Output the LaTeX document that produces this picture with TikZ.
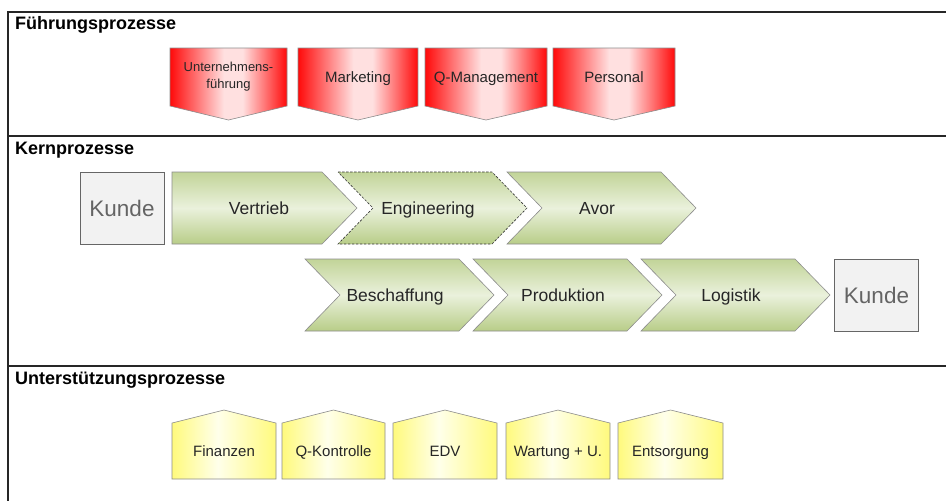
\documentclass[tikz,border=0pt]{standalone}
\usepackage{fontspec}
\setmainfont{Liberation Sans}
\definecolor{rededge}{RGB}{255,10,10}
\definecolor{redmid}{RGB}{255,224,224}
\definecolor{gtop}{RGB}{194,212,152}
\definecolor{gmid}{RGB}{234,241,220}
\definecolor{gbot}{RGB}{184,205,136}
\definecolor{yedge}{RGB}{255,250,125}
\definecolor{ymid}{RGB}{255,255,234}
\definecolor{kundefill}{RGB}{242,242,242}
\definecolor{kundetext}{RGB}{100,100,100}
\definecolor{shapeline}{RGB}{140,140,140}
\pgfdeclarehorizontalshading{redsh}{100bp}{color(0bp)=(rededge); color(25bp)=(rededge); color(48bp)=(redmid); color(56bp)=(redmid); color(75bp)=(rededge); color(100bp)=(rededge)}
\pgfdeclarehorizontalshading{yelsh}{100bp}{color(0bp)=(yedge); color(25bp)=(yedge); color(47bp)=(ymid); color(75bp)=(yedge); color(100bp)=(yedge)}
\pgfdeclareverticalshading{greensh}{100bp}{color(0bp)=(gbot); color(25bp)=(gbot); color(50bp)=(gmid); color(75bp)=(gtop); color(100bp)=(gtop)}
\tikzset{
  frameline/.style={line width=1.6pt, draw=black!85},
  heading/.style={anchor=base west, inner sep=0pt, font=\fontsize{18}{20}\selectfont\bfseries},
  redbox/.style={draw=shapeline, line width=0.6pt, shading=redsh},
  redtext/.style={font=\fontsize{15}{17}\selectfont, text=black!85, align=center, inner sep=0pt},
  redone/.style={redtext, text height=11pt, text depth=0pt},
  greenbox/.style={draw=shapeline, line width=0.6pt, shading=greensh},
  greentext/.style={font=\fontsize{17.5}{20}\selectfont, text=black!85, inner sep=0pt, text height=12.5pt, text depth=0pt},
  kundebox/.style={draw=black!60, line width=0.8pt, fill=kundefill, minimum width=84pt, minimum height=72pt, inner sep=0pt, font=\fontsize{22.5}{24}\selectfont, text=kundetext, text height=16pt, text depth=0pt},
  yelbox/.style={draw=shapeline, line width=0.6pt, shading=yelsh},
  yeltext/.style={font=\fontsize{15}{17}\selectfont, text=black!85, inner sep=0pt, text height=11pt, text depth=0pt}
}
% red pentagon pointing down: name, x1, x2, text, text style
\newcommand\redpent[5]{%
  \path[redbox] (#2,48) -- (#3,48) -- (#3,106) -- ({(#2+#3)/2},120) -- (#2,106) -- cycle;
  \node[#5] (#1) at ({(#2+#3)/2},77) {#4};}
% green chevron with notch: name, left x, top y, text, extra style
\newcommand\greenchev[5]{%
  \path[greenbox,#5] (#2,#3) -- ({#2+154},#3) -- ({#2+189},{#3+36}) -- ({#2+154},{#3+72}) -- (#2,{#3+72}) -- ({#2+35},{#3+36}) -- cycle;
  \node[greentext] (#1) at ({#2+90},{#3+36}) {#4};}
% yellow house: name, x1, x2, text
\newcommand\yelhouse[4]{%
  \path[yelbox] (#2,423) -- ({(#2+#3)/2},410) -- (#3,423) -- (#3,479) -- (#2,479) -- cycle;
  \node[yeltext] (#1) at ({(#2+#3)/2},451) {#4};}
\begin{document}
\begin{tikzpicture}[x=1pt,y=-1pt]
\useasboundingbox (0,0) rectangle (946,501);
\fill[white] (0,0) rectangle (946,501);
% frame
\draw[frameline] (946,12) -- (8,12) -- (8,501);
\draw[frameline] (8,136) -- (946,136);
\draw[frameline] (8,366) -- (946,366);
% headings
\node[heading] (h1) at (15,29) {Führungsprozesse};
\node[heading] (h2) at (15,154) {Kernprozesse};
\node[heading] (h3) at (15,384) {Unterstützungsprozesse};
% Führungsprozesse
\redpent{uf}{170}{287}{\fontsize{13}{15}\selectfont Unternehmens-\\\fontsize{13}{15}\selectfont führung}{redtext}
\redpent{mk}{298}{418}{Marketing}{redone}
\redpent{qm}{425}{547}{Q-Management}{redone}
\redpent{pe}{553}{675}{Personal}{redone}
% Kernprozesse
\node[kundebox] (k1) at (122,208.5) {Kunde};
\path[greenbox] (172,172) -- (322,172) -- (357,208) -- (322,244) -- (172,244) -- cycle;
\node[greentext] (vt) at (259,208) {Vertrieb};
\greenchev{en}{338}{172}{Engineering}{draw=black!80, dash pattern=on 2.5pt off 1.5pt}
\greenchev{av}{507}{172}{Avor}{}
\greenchev{be}{305}{259}{Beschaffung}{}
\greenchev{pr}{473}{259}{Produktion}{}
\greenchev{lo}{641}{259}{Logistik}{}
\node[kundebox] (k2) at (876.5,295) {Kunde};
% Unterstützungsprozesse
\yelhouse{fi}{172}{276}{Finanzen}
\yelhouse{qk}{282}{385}{Q-Kontrolle}
\yelhouse{ed}{393}{497}{EDV}
\yelhouse{wu}{506}{610}{Wartung + U.}
\yelhouse{es}{618}{723}{Entsorgung}
\end{tikzpicture}
\end{document}
